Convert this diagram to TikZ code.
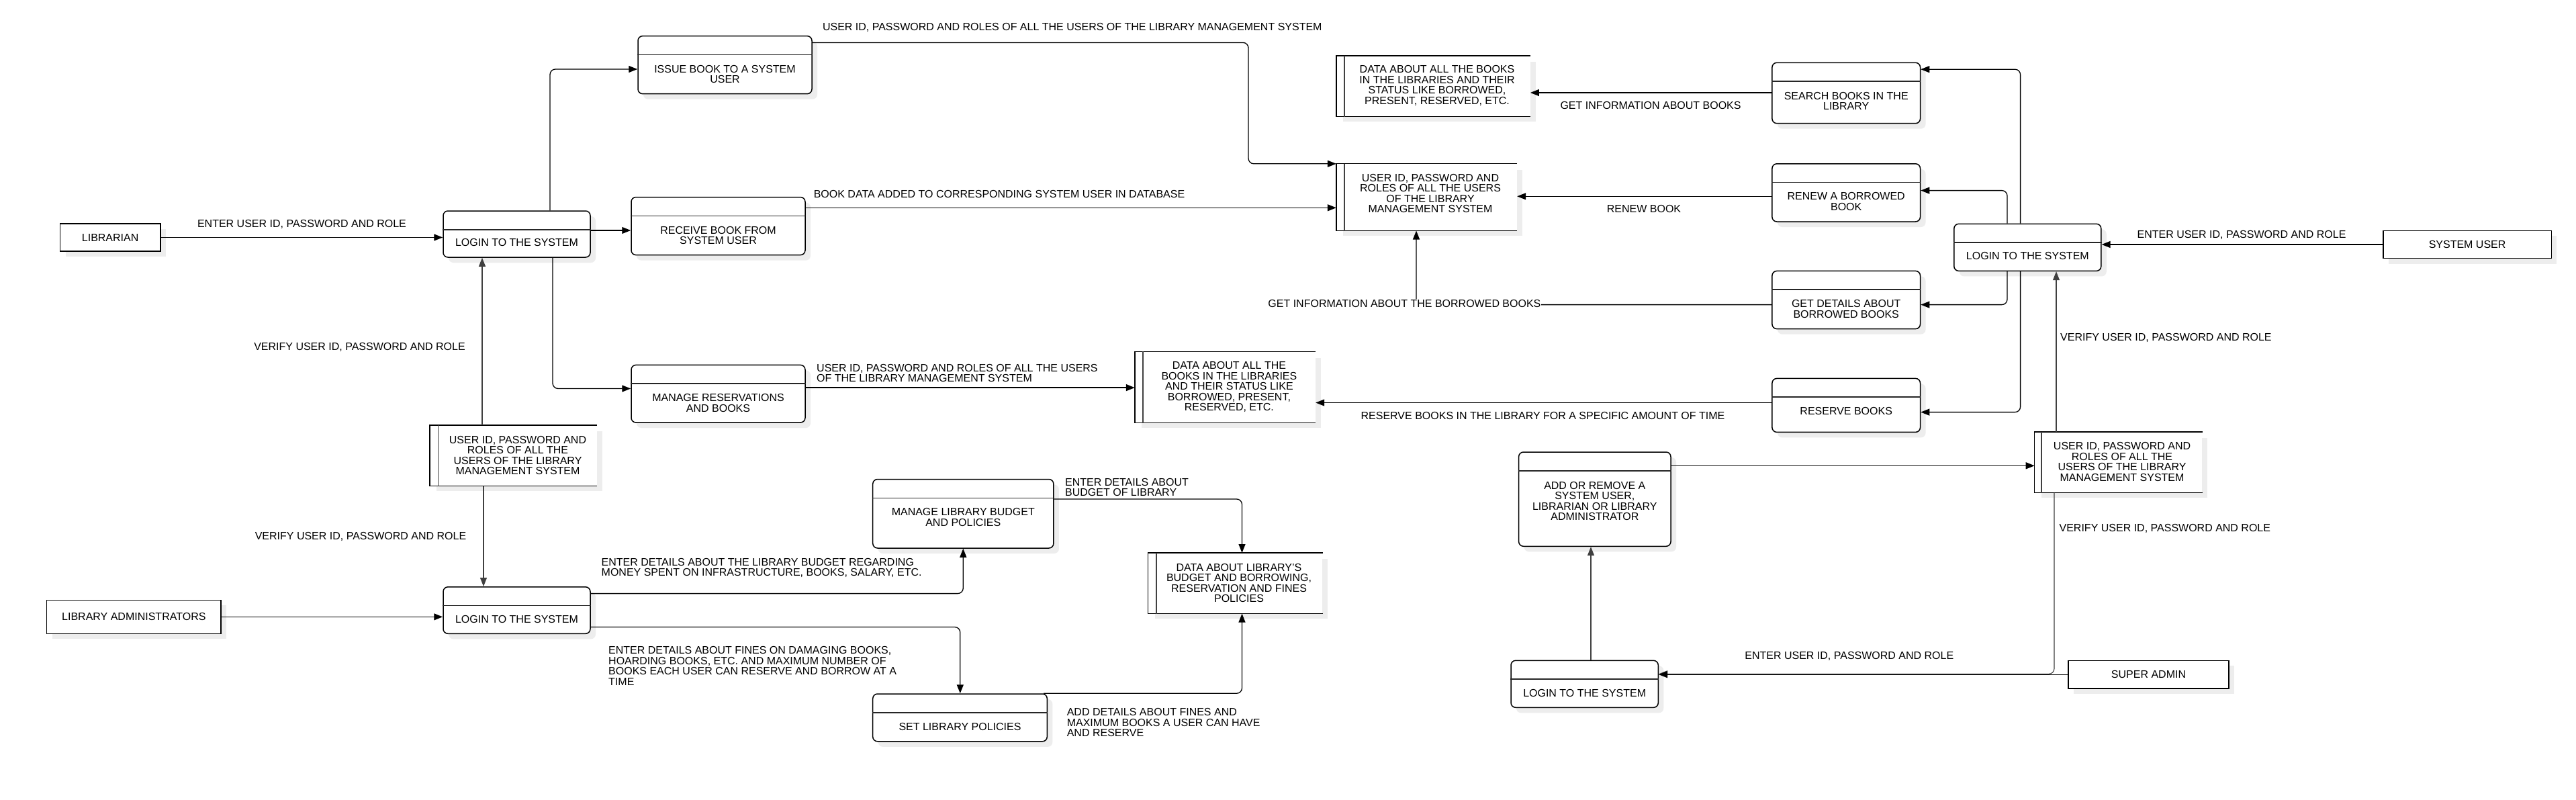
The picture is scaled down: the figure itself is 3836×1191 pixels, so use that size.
\documentclass[tikz,border=0pt]{standalone}
\usepackage{fontspec}
\setmainfont{Liberation Sans}
\usetikzlibrary{arrows.meta,shadows}
\newcommand\diagfont{\fontsize{16}{15.5}\selectfont}
\tikzset{
  shad/.style={drop shadow={shadow xshift=8pt,shadow yshift=-8pt,fill=black!7,opacity=1}},
  procbox/.style={draw,line width=1.5pt,rounded corners=7pt,fill=white,shad,inner sep=0pt},
  hdr/.style={line width=1.5pt,black!85},
  extbox/.style={draw,line width=1.5pt,fill=white,shad,inner sep=0pt,font=\diagfont},
  ptext/.style={font=\diagfont,align=center,inner sep=0pt},
  stline/.style={line width=1.5pt},
  stinner/.style={line width=1.5pt,black!75},
  lbl/.style={font=\diagfont,align=center,inner sep=1pt},
  lbll/.style={font=\diagfont,align=left,inner sep=0pt,anchor=west},
  flow/.style={draw,line width=1.3pt,-{Triangle[length=13pt,width=10pt]},rounded corners=8pt},
  vflow/.style={draw,line width=1.1pt,black!75,-{Triangle[length=13pt,width=10pt]},rounded corners=8pt},
}
% process: name x1 y1 x2 y2 texty text
\newcommand\proc[7]{%
  \node[procbox,minimum width={(#4-#2)*1pt},minimum height={(#5-#3)*1pt}] (#1) at ({(#2+#4)/2},{(#3+#5)/2}) {};
  \draw[hdr] ([yshift=-28.5pt]#1.north west) -- ([yshift=-28.5pt]#1.north east);
  \node[ptext] at ({(#2+#4)/2},#6) {#7};
}
% store: name x1 y1 x2 y2 xinner tx ty text
\newcommand\store[9]{%
  \fill[black!7] ({#2+10},{#3+9}) rectangle ({#4+8},{#5+8});
  \node[fill=white,inner sep=0pt,minimum width={(#4-#2)*1pt},minimum height={(#5-#3)*1pt}] (#1) at ({(#2+#4)/2},{(#3+#5)/2}) {};
  \draw[stline] (#1.north east) -- (#1.north west) -- (#1.south west) -- (#1.south east);
  \draw[stinner] (#6,0 |- #1.north) -- (#6,0 |- #1.south);
  \node[ptext] at (#7,#8) {#9};
}
\begin{document}
\begin{tikzpicture}[x=1pt,y=-1pt]
\fill[white] (0,0) rectangle (3836,1191);
\useasboundingbox (0,0) rectangle (3836,1191);

% ---------- left: librarian ----------
\node[extbox,minimum width=149.3pt,minimum height=41pt] (lib) at (164.15,353.5) {LIBRARIAN};
\proc{llogin}{660}{314}{879}{383}{361}{LOGIN TO THE SYSTEM}
\proc{issue}{950}{53.6}{1209}{139.7}{110.5}{ISSUE BOOK TO A SYSTEM\\USER}
\proc{receive}{940}{293.5}{1199}{379.6}{350.5}{RECEIVE BOOK FROM\\SYSTEM USER}
\proc{manage}{940}{543.4}{1199}{629}{600}{MANAGE RESERVATIONS\\AND BOOKS}
\store{ldsu}{640}{633.4}{889}{723.3}{652.6}{771}{678}{USER ID, PASSWORD AND\\ROLES OF ALL THE\\USERS OF THE LIBRARY\\MANAGEMENT SYSTEM}

% ---------- left: administrators ----------
\proc{alogin}{660}{873.8}{879}{943.3}{921.6}{LOGIN TO THE SYSTEM}
\node[extbox,minimum width=259.3pt,minimum height=49.9pt] (adm) at (199.35,918.35) {LIBRARY ADMINISTRATORS};
\proc{budget}{1299.7}{713.5}{1568.9}{816}{770}{MANAGE LIBRARY BUDGET\\AND POLICIES}
\proc{setpol}{1299.7}{1033}{1559.3}{1103.8}{1081.7}{SET LIBRARY POLICIES}
\store{pds}{1709.8}{823.2}{1969.4}{913.3}{1722}{1845}{867.8}{DATA ABOUT LIBRARY'S\\BUDGET AND BORROWING,\\RESERVATION AND FINES\\POLICIES}

% ---------- middle stores ----------
\store{bds}{1990}{83}{2278.6}{173.3}{2001.8}{2140}{127.5}{DATA ABOUT ALL THE BOOKS\\IN THE LIBRARIES AND THEIR\\STATUS LIKE BORROWED,\\PRESENT, RESERVED, ETC.}
\store{udsu}{1990}{243.8}{2259}{343.3}{2001.8}{2130}{287.8}{USER ID, PASSWORD AND\\ROLES OF ALL THE USERS\\OF THE LIBRARY\\MANAGEMENT SYSTEM}
\store{rdsr}{1690}{523.6}{1959}{629.4}{1701.8}{1830.4}{576}{DATA ABOUT ALL THE\\BOOKS IN THE LIBRARIES\\AND THEIR STATUS LIKE\\BORROWED, PRESENT,\\RESERVED, ETC.}

% ---------- right: system user ----------
\proc{search}{2638.9}{93.3}{2859.5}{183.7}{150.3}{SEARCH BOOKS IN THE\\LIBRARY}
\proc{renew}{2638.9}{243.8}{2859.5}{330}{300}{RENEW A BORROWED\\BOOK}
\proc{getdet}{2638.9}{403.4}{2859.5}{489.6}{459.8}{GET DETAILS ABOUT\\BORROWED BOOKS}
\proc{reserve}{2638.9}{563.4}{2859.5}{643.4}{611.5}{RESERVE BOOKS}
\proc{slogin}{2909.8}{333.3}{3128.8}{403.4}{381.4}{LOGIN TO THE SYSTEM}
\node[extbox,minimum width=250.5pt,minimum height=41.4pt] (suser) at (3674.05,364) {SYSTEM USER};

% ---------- right: super admin ----------
\proc{addrm}{2261.6}{673}{2488}{813.3}{746}{ADD OR REMOVE A\\SYSTEM USER,\\LIBRARIAN OR LIBRARY\\ADMINISTRATOR}
\store{rdsu}{3029.9}{643.3}{3279.4}{733.3}{3040}{3160}{687.5}{USER ID, PASSWORD AND\\ROLES OF ALL THE\\USERS OF THE LIBRARY\\MANAGEMENT SYSTEM}
\proc{sulogin}{2250}{983.3}{2469.3}{1053.3}{1031.7}{LOGIN TO THE SYSTEM}
\node[extbox,minimum width=239pt,minimum height=41.7pt] (sadmin) at (3199.5,1004.15) {SUPER ADMIN};

% ---------- connectors: librarian ----------
\draw[flow] (lib.east) -- (lib.east -| llogin.west);
\draw[flow] (819,0 |- llogin.north) |- (issue.west |- 0,103);
\draw[flow] (llogin.east |- 0,343) -- (receive.west |- 0,343);
\draw[flow] (823,0 |- llogin.south) |- (manage.west |- 0,578.5);
\draw[vflow] (718,0 |- ldsu.north) -- (718,0 |- llogin.south);
\draw[vflow] (720,0 |- ldsu.south) -- (720,0 |- alogin.north);
\draw[flow] (issue.east |- 0,63.4) -| (1859,150) |- (udsu.west |- 0,243.8);
\draw[flow] (receive.east |- 0,309.3) -- (udsu.west |- 0,309.3);
\draw[flow] (manage.east |- 0,577.1) -- (rdsr.west |- 0,577.1);

% ---------- connectors: administrators ----------
\draw[flow] (adm.east) -- (adm.east -| alogin.west);
\draw[flow] (alogin.east |- 0,883.6) -| (1434.3,0 |- budget.south);
\draw[flow] (alogin.east |- 0,933.5) -| (1429.8,0 |- setpol.north);
\draw[flow] (budget.east |- 0,743) -| (1849.5,0 |- pds.north);
\draw[flow] ([xshift=-6pt]setpol.north east) -| (1849.5,0 |- pds.south);

% ---------- connectors: system user ----------
\draw[flow] (suser.west) -- (suser.west -| slogin.east);
\draw[flow] (3008.6,0 |- slogin.north) |- (search.east |- 0,103.2);
\draw[flow] (2989,0 |- slogin.north) |- (renew.east |- 0,283.6);
\draw[flow] (2989,0 |- slogin.south) |- (getdet.east |- 0,453.6);
\draw[flow] (3008.6,0 |- slogin.south) |- (reserve.east |- 0,613.6);
\draw[flow] (search.west |- 0,138) -- (bds.east |- 0,138);
\draw[flow] (renew.west |- 0,292.3) -- (udsu.east |- 0,292.3);
\draw[flow] (getdet.west |- 0,453.6) -| (2109,0 |- udsu.south);
\draw[flow] (reserve.west |- 0,599.5) -- (rdsr.east |- 0,599.5);

% ---------- connectors: super admin ----------
\draw[vflow] (3062,0 |- rdsu.north) -- (3062,0 |- slogin.south);
\draw[flow] (addrm.east |- 0,693.3) -- (rdsu.west |- 0,693.3);
\draw[vflow] (3059,0 |- rdsu.south) |- (sulogin.east |- 0,1003.3);
\draw[flow] (sadmin.west) -- (sadmin.west -| sulogin.east);
\draw[vflow] (2369,0 |- sulogin.north) -- (2369,0 |- addrm.south);

% ---------- labels ----------
\node[lbl] (t1) at (449.5,334) {ENTER USER ID, PASSWORD AND ROLE};
\node[lbl] (t2) at (535.5,517) {VERIFY USER ID, PASSWORD AND ROLE};
\node[lbl] (t3) at (537,798.6) {VERIFY USER ID, PASSWORD AND ROLE};
\node[lbl] (t4) at (1596.8,40.6) {USER ID, PASSWORD AND ROLES OF ALL THE USERS OF THE LIBRARY MANAGEMENT SYSTEM};
\node[lbl] (t5) at (1488,289.4) {BOOK DATA ADDED TO CORRESPONDING SYSTEM USER IN DATABASE};
\node[lbll] (t6) at (1216,555.3) {USER ID, PASSWORD AND ROLES OF ALL THE USERS\\OF THE LIBRARY MANAGEMENT SYSTEM};
\node[lbll] (t7) at (895.5,845.4) {ENTER DETAILS ABOUT THE LIBRARY BUDGET REGARDING\\MONEY SPENT ON INFRASTRUCTURE, BOOKS, SALARY, ETC.};
\node[lbll] (t8) at (906,991.5) {ENTER DETAILS ABOUT FINES ON DAMAGING BOOKS,\\HOARDING BOOKS, ETC. AND MAXIMUM NUMBER OF\\BOOKS EACH USER CAN RESERVE AND BORROW AT A\\TIME};
\node[lbll] (t9) at (1586,725.3) {ENTER DETAILS ABOUT\\BUDGET OF LIBRARY};
\node[lbll] (t10) at (1588.6,1075.6) {ADD DETAILS ABOUT FINES AND\\MAXIMUM BOOKS A USER CAN HAVE\\AND RESERVE};
\node[lbl] (t11) at (2458,156.7) {GET INFORMATION ABOUT BOOKS};
\node[lbl] (t12) at (2448,311) {RENEW BOOK};
\node[lbl,fill=white] (t13) at (2091.4,451.5) {GET INFORMATION ABOUT THE BORROWED BOOKS};
\node[lbl] (t14) at (2297.5,618.6) {RESERVE BOOKS IN THE LIBRARY FOR A SPECIFIC AMOUNT OF TIME};
\node[lbl] (t15) at (3338,349.5) {ENTER USER ID, PASSWORD AND ROLE};
\node[lbll] (t16) at (3068,503.3) {VERIFY USER ID, PASSWORD AND ROLE};
\node[lbll] (t17) at (3066.4,786.7) {VERIFY USER ID, PASSWORD AND ROLE};
\node[lbl] (t18) at (2753.8,976.7) {ENTER USER ID, PASSWORD AND ROLE};
\end{tikzpicture}
\end{document}
